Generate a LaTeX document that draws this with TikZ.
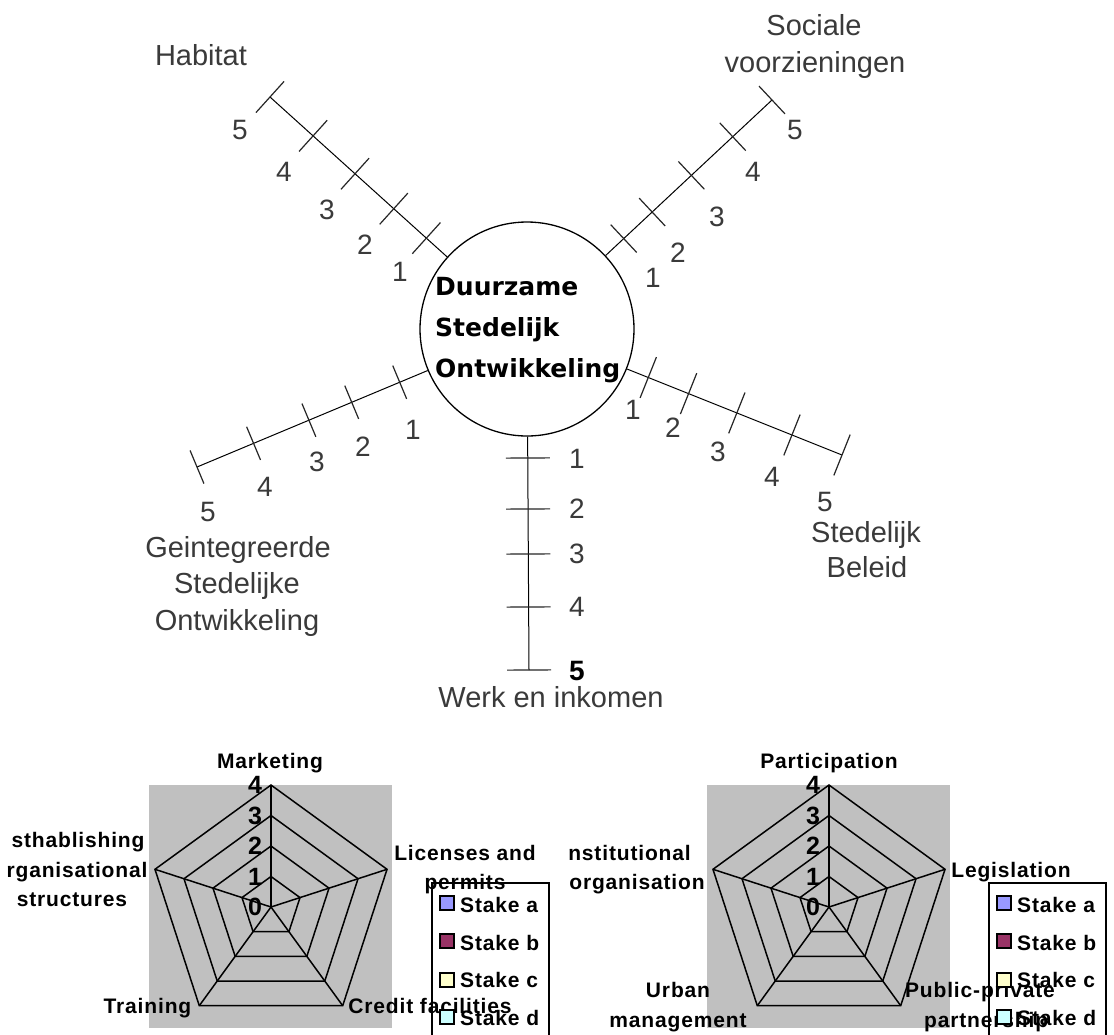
\documentclass[tikz,border=0pt]{standalone}
\usepackage{fontspec}
\setmainfont{Liberation Sans}
\newfontfamily\chartfont{Liberation Sans}[LetterSpace=4]
\newfontfamily\hubfont{DejaVu Sans}
\usetikzlibrary{calc}
\definecolor{txtgray}{HTML}{3A3A3A}
\definecolor{chartbg}{HTML}{C0C0C0}
\definecolor{stakea}{HTML}{9999FF}
\definecolor{stakeb}{HTML}{993366}
\definecolor{stakec}{HTML}{FFFFCC}
\definecolor{staked}{HTML}{CCFFFF}
\tikzset{
  lbl/.style={font=\fontsize{29}{36}\selectfont, text=txtgray, inner sep=0},
  dig/.style={font=\fontsize{28}{28}\selectfont, text=txtgray, inner sep=0},
  hub/.style={circle, draw, line width=1.3pt, minimum size=214pt, inner sep=0},
  hubtxt/.style={font=\hubfont\bfseries\fontsize{25}{25}\selectfont, inner sep=0},
  axisline/.style={line width=1pt, black},
  tickline/.style={line width=1.2pt, black!85},
  clbl/.style={font=\chartfont\bfseries\fontsize{21}{30}\selectfont, inner sep=0},
  cnum/.style={font=\bfseries\fontsize{25}{25}\selectfont, inner sep=0},
  web/.style={line width=1.5pt, black, line join=miter},
  legbox/.style={line width=1.5pt, black},
  legsq/.style={draw=black, line width=1.2pt, minimum size=14pt, inner sep=0},
}
\newcommand\myaxis[3]{%
  \draw[axisline] (c) -- (#1);
  \foreach \d [count=\i] in {#3} {
    \coordinate (#1t\i) at ($(c)!\d pt!(#1)$);
    \draw[tickline] ($(#1t\i)!#2!90:(#1)$) -- ($(#1t\i)!#2!-90:(#1)$);
  }
  \draw[tickline] ($(#1)!#2!90:(c)$) -- ($(#1)!#2!-90:(c)$);
}
\newcommand\myradar[2]{%
  \coordinate (#1o) at (#2,907);
  \fill[chartbg] ({#2-122},785) rectangle ({#2+121},1028);
  \foreach \k in {1,2,3,4} {
    \pgfmathsetmacro\rr{30.5*\k}
    \draw[web] ($(#1o)+({\rr*cos(270)},{\rr*sin(270)})$)
      \foreach \a in {342,54,126,198} { -- ($(#1o)+({\rr*cos(\a)},{\rr*sin(\a)})$) } -- cycle;
  }
  \foreach \a in {270,342,54,126,198}
    \draw[web] (#1o) -- ($(#1o)+({122*cos(\a)},{122*sin(\a)})$);
  \foreach \k in {0,...,4}
    \node[cnum] (#1n\k) at ({#2-16},{907-30.5*\k}) {\k};
}
\newcommand\mylegend[2]{%
  \draw[legbox] (#2,1045) -- (#2,883) -- ({#2+117},883) -- ({#2+117},1045);
  \foreach \col/\nm/\yc/\yb [count=\i] in {stakea/a/903/912, stakeb/b/941/950, stakec/c/980/987, staked/d/1017/1025} {
    \node[legsq, fill=\col] (#1sq\i) at ({#2+15},\yc) {};
    \node[clbl, anchor=base west] (#1tx\i) at ({#2+28},\yb) {Stake \nm};
  }
}
\begin{document}
\begin{tikzpicture}[x=1pt,y=-1pt]
\useasboundingbox (0,0) rectangle (1114,1034);
\clip (0,0) rectangle (1114,1034);
\fill[white] (0,0) rectangle (1114,1034);

% ---------- top: hub and axes ----------
\node[hub] (c) at (527,329) {};
\node[hubtxt, anchor=base west] (t1) at (435,295) {Duurzame};
\node[hubtxt, anchor=base west] (t2) at (435,336) {Stedelijk};
\node[hubtxt, anchor=base west] (t3) at (435,377) {Ontwikkeling};

\coordinate (hE) at (270,97);
\coordinate (sE) at (772,100);
\coordinate (gE) at (197,467);
\coordinate (bE) at (842,455);
\coordinate (wE) at (529,670);

\myaxis{hE}{21pt}{135.6,179.5,231.7,288.2}
\myaxis{sE}{19pt}{132.4,171.3,225,281.6}
\myaxis{gE}{18pt}{138,190,236.4,296.4}
\myaxis{bE}{22pt}{130.6,174,226,285.4}
\myaxis{wE}{22pt}{129,180,225,278}

% axis titles
\node[lbl, anchor=base] (habitat) at (201,65) {Habitat};
\node[lbl, anchor=base] (soc1) at (814,35) {Sociale};
\node[lbl, anchor=base] (soc2) at (815,72) {voorzieningen};
\node[lbl, anchor=base] (gis1) at (238,557) {Geintegreerde};
\node[lbl, anchor=base] (gis2) at (237,593) {Stedelijke};
\node[lbl, anchor=base] (gis3) at (237,630) {Ontwikkeling};
\node[lbl, anchor=base] (sb1) at (866,542) {Stedelijk};
\node[lbl, anchor=base] (sb2) at (867,577) {Beleid};
\node[lbl, anchor=base] (werk) at (551,707) {Werk en inkomen};

% axis numbers
\node[dig] (hd1) at (400,272) {1};
\node[dig] (hd2) at (365,245) {2};
\node[dig] (hd3) at (327,210) {3};
\node[dig] (hd4) at (284,172) {4};
\node[dig] (hd5) at (240,130) {5};
\node[dig] (sd1) at (653,278) {1};
\node[dig] (sd2) at (678,253) {2};
\node[dig] (sd3) at (717,217) {3};
\node[dig] (sd4) at (753,172) {4};
\node[dig] (sd5) at (795,130) {5};
\node[dig] (gd1) at (413,430) {1};
\node[dig] (gd2) at (363,447) {2};
\node[dig] (gd3) at (317,462) {3};
\node[dig] (gd4) at (265,487) {4};
\node[dig] (gd5) at (208,512) {5};
\node[dig] (bd1) at (633,410) {1};
\node[dig] (bd2) at (673,428) {2};
\node[dig] (bd3) at (718,452) {3};
\node[dig] (bd4) at (772,477) {4};
\node[dig] (bd5) at (825,502) {5};
\node[dig] (wd1) at (577,459) {1};
\node[dig] (wd2) at (577,509) {2};
\node[dig] (wd3) at (577,554) {3};
\node[dig] (wd4) at (577,607) {4};
\node[dig, text=black, font=\bfseries\fontsize{28}{28}\selectfont] (wd5) at (577,671) {5};

% ---------- bottom left radar ----------
\myradar{L}{271}
\node[clbl, anchor=base] (mkt) at (270,768) {Marketing};
\node[clbl, anchor=base] (lic1) at (465,860) {Licenses and};
\node[clbl, anchor=base] (lic2) at (465,889) {permits};
\node[clbl, anchor=base] (cred) at (430,1013) {Credit facilities};
\node[clbl, anchor=base] (trn) at (147.5,1013) {Training};
\node[clbl, anchor=base] (est1) at (78,847) {sthablishing};
\node[clbl, anchor=base] (est2) at (77,877) {rganisational};
\node[clbl, anchor=base] (est3) at (72,906) {structures};
\mylegend{LL}{432}

% ---------- bottom right radar ----------
\myradar{R}{829}
\node[clbl, anchor=base] (part) at (829,768) {Participation};
\node[clbl, anchor=base] (legi) at (1011,877) {Legislation};
\node[clbl, anchor=base] (inst1) at (629.5,860) {nstitutional};
\node[clbl, anchor=base] (inst2) at (637,889) {organisation};
\node[clbl, anchor=base] (urb1) at (678,997) {Urban};
\node[clbl, anchor=base] (urb2) at (678,1027) {management};
\node[clbl, anchor=base] (ppp1) at (980,997) {Public-private};
\node[clbl, anchor=base west] (ppp2) at (924,1027) {partnership};
\mylegend{RL}{989}
\end{tikzpicture}
\end{document}
